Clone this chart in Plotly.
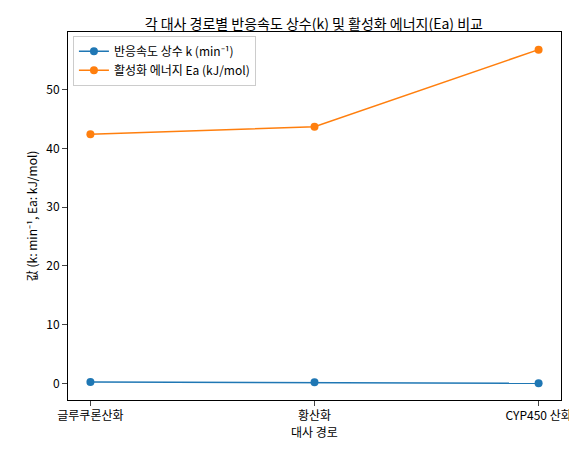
import plotly.graph_objects as go

categories = ["글루쿠론산화", "황산화", "CYP450 산화"]
k_values = [0.25, 0.2, 0.05]
ea_values = [42.4, 43.7, 56.8]

fig = go.Figure()
fig.add_trace(go.Scatter(x=[0, 1, 2], y=k_values, mode="lines+markers", name="반응속도 상수 k (min⁻¹)",
                         line=dict(color="#1f77b4", width=1.5), marker=dict(size=8)))
fig.add_trace(go.Scatter(x=[0, 1, 2], y=ea_values, mode="lines+markers", name="활성화 에너지 Ea (kJ/mol)",
                         line=dict(color="#ff7f0e", width=1.5), marker=dict(size=8)))
fig.update_layout(
    width=577, height=454, plot_bgcolor="white", paper_bgcolor="white",
    font=dict(family="Noto Sans CJK KR", size=12, color="black"),
    title=dict(text="각 대사 경로별 반응속도 상수(k) 및 활성화 에너지(Ea) 비교", x=0.53, y=0.975, xanchor="center", font=dict(size=14)),
    margin=dict(l=60, r=24, t=24, b=62),
    legend=dict(x=0.01, y=0.99, xanchor="left", yanchor="top", bordercolor="#cccccc", borderwidth=1, bgcolor="white"),
    showlegend=True,
)
fig.update_xaxes(range=[-0.1, 2.1], tickvals=[0, 1, 2], ticktext=categories, title=dict(text="대사 경로", standoff=4, font=dict(size=12)),
                 showline=True, mirror=True, linecolor="black", ticks="outside", showgrid=False, zeroline=False)
fig.update_yaxes(range=[-2.8, 59.8], tickvals=[0, 10, 20, 30, 40, 50], title=dict(text="값 (k: min⁻¹, Ea: kJ/mol)", standoff=6, font=dict(size=12)),
                 showline=True, mirror=True, linecolor="black", ticks="outside", showgrid=False, zeroline=False)
fig.write_html("out.html")
